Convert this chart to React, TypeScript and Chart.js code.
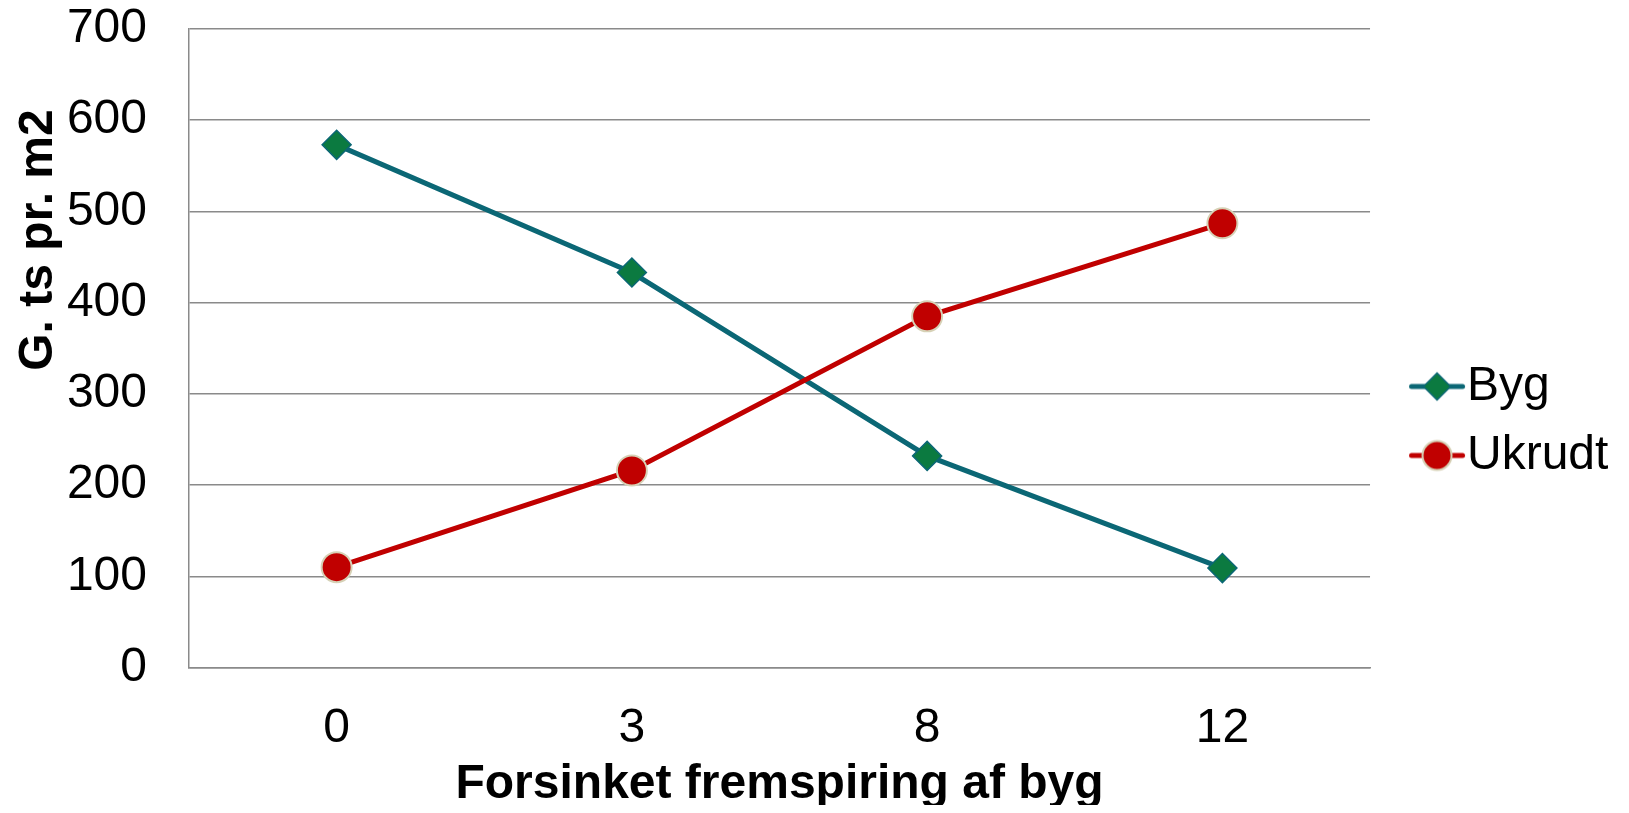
import React, { useEffect, useRef } from 'react';
import { Chart, registerables } from 'chart.js';

Chart.register(...registerables);

const categories = ['0', '3', '8', '12'];
const bygValues = [573, 433, 232, 109];
const ukrudtValues = [110, 216, 385, 487];
const seriesNames = ['Byg', 'Ukrudt'];
const yMin = 0;
const yMax = 700;
const yStep = 100;
const xTitle = 'Forsinket fremspiring af byg';
const yTitle = 'G. ts pr. m2';

const FONT = '"Liberation Sans", Arial, Helvetica, sans-serif';
const GRID = '#8a8a8a';
const BYG_LINE = '#0b6775';
const BYG_FILL = '#0b7a40';
const RED = '#c00000';
const RED_BORDER = '#d6d1b6';

function makeSymbol(kind: 'diamond' | 'circle'): HTMLCanvasElement {
  const c = document.createElement('canvas');
  c.width = 110;
  c.height = 40;
  const ctx = c.getContext('2d') as CanvasRenderingContext2D;
  const cx = 75;
  const cy = 20;
  ctx.lineCap = 'round';
  ctx.lineWidth = 5;
  ctx.strokeStyle = kind === 'diamond' ? BYG_LINE : RED;
  ctx.beginPath();
  ctx.moveTo(cx - 25.5, cy);
  ctx.lineTo(cx + 25.5, cy);
  ctx.stroke();
  if (kind === 'diamond') {
    const r = 13.5;
    ctx.beginPath();
    ctx.moveTo(cx - r, cy);
    ctx.lineTo(cx, cy - r);
    ctx.lineTo(cx + r, cy);
    ctx.lineTo(cx, cy + r);
    ctx.closePath();
    ctx.fillStyle = BYG_FILL;
    ctx.fill();
    ctx.lineWidth = 1.5;
    ctx.strokeStyle = BYG_LINE;
    ctx.stroke();
  } else {
    ctx.beginPath();
    ctx.arc(cx, cy, 14.5, 0, Math.PI * 2);
    ctx.fillStyle = RED;
    ctx.fill();
    ctx.lineWidth = 2;
    ctx.strokeStyle = RED_BORDER;
    ctx.stroke();
  }
  return c;
}

const yTitlePlugin = {
  id: 'yTitleCustom',
  afterDraw(chart: any) {
    const ctx = chart.ctx as CanvasRenderingContext2D;
    ctx.save();
    ctx.translate(31, chart.chartArea.top + 211);
    ctx.rotate(-Math.PI / 2);
    ctx.font = `bold 48px ${FONT}`;
    ctx.fillStyle = '#000';
    ctx.textAlign = 'center';
    ctx.textBaseline = 'middle';
    ctx.fillText(yTitle, 0, 0);
    ctx.restore();
  },
};

export default function App() {
  const ref = useRef<HTMLCanvasElement | null>(null);

  useEffect(() => {
    if (!ref.current) return;
    const symbols = [makeSymbol('diamond'), makeSymbol('circle')];
    const chart = new Chart(ref.current, {
      type: 'line',
      data: {
        labels: categories,
        datasets: [
          {
            label: seriesNames[0],
            data: bygValues,
            borderColor: BYG_LINE,
            borderWidth: 5,
            pointStyle: 'rectRot',
            pointRadius: 14.5,
            pointHoverRadius: 14.5,
            pointBackgroundColor: BYG_FILL,
            pointBorderColor: BYG_LINE,
            pointBorderWidth: 1.5,
            tension: 0,
            order: 1,
          },
          {
            label: seriesNames[1],
            data: ukrudtValues,
            borderColor: RED,
            borderWidth: 5,
            pointStyle: 'circle',
            pointRadius: 15,
            pointHoverRadius: 15,
            pointBackgroundColor: RED,
            pointBorderColor: RED_BORDER,
            pointBorderWidth: 2,
            tension: 0,
            order: 0,
          },
        ],
      },
      options: {
        responsive: true,
        maintainAspectRatio: false,
        animation: false,
        events: [],
        layout: { padding: { top: 21, right: 2.6, left: 0, bottom: 0 } },
        font: { family: FONT },
        scales: {
          x: {
            type: 'category',
            offset: true,
            grid: { display: false, drawTicks: false },
            border: { display: true, color: GRID, width: 1.5 },
            ticks: { padding: 32, color: '#000', font: { family: FONT, size: 48 } },
            title: {
              display: true,
              text: xTitle,
              color: '#000',
              font: { family: FONT, size: 48, weight: 'bold', lineHeight: 1 },
              padding: { top: 10, bottom: 4 },
            },
            afterFit: (s: any) => {
              s.height = 145.5;
            },
          },
          y: {
            min: yMin,
            max: yMax,
            grid: {
              color: GRID,
              lineWidth: 1.5,
              drawTicks: true,
              tickLength: 42,
              tickColor: 'rgba(0,0,0,0)',
            },
            border: { display: true, color: GRID, width: 1.5 },
            ticks: {
              stepSize: yStep,
              padding: 0,
              color: '#000',
              font: { family: FONT, size: 48, lineHeight: 0.85 },
            },
            afterFit: (s: any) => {
              s.width = 181;
            },
          },
        },
        plugins: {
          tooltip: { enabled: false },
          legend: {
            position: 'right',
            labels: {
              usePointStyle: true,
              pointStyleWidth: 52,
              padding: 21,
              color: '#000',
              font: { family: FONT, size: 48 },
              sort: (a: any, b: any) => a.datasetIndex - b.datasetIndex,
              generateLabels: (c: any) => {
                const items = (Chart.defaults.plugins.legend.labels as any).generateLabels(c);
                return items.map((it: any) => ({ ...it, pointStyle: symbols[it.datasetIndex] }));
              },
            },
          },
        },
      },
      plugins: [yTitlePlugin],
    } as any);
    return () => chart.destroy();
  }, []);

  return (
    <div style={{ width: '1613px', height: '805px', marginBottom: '-8px', position: 'relative' }}>
      <canvas ref={ref} />
    </div>
  );
}
